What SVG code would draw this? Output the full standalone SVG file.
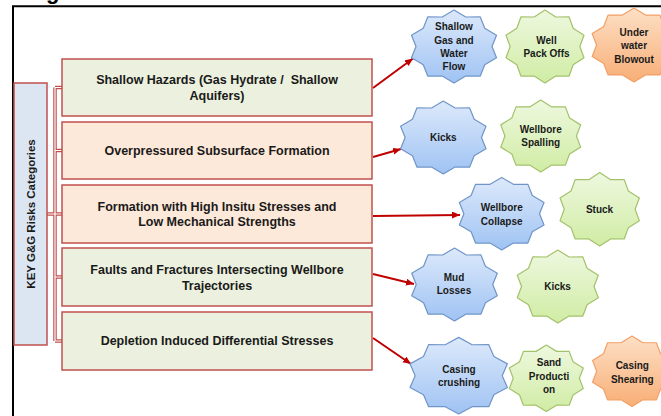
<svg xmlns="http://www.w3.org/2000/svg" width="661" height="416" viewBox="0 0 661 416">
<style>
.box{stroke:#c0504d;stroke-width:1.5}
.green{fill:#ebf1de}
.peach{fill:#fde9d9}
.t{font-family:"Liberation Sans",Arial,sans-serif;font-weight:bold;font-size:12.5px;fill:#1a1a1a;text-anchor:middle}
.s{font-family:"Liberation Sans",Arial,sans-serif;font-weight:bold;font-size:10px;fill:#1a1a1a;text-anchor:middle}
.sb{fill:url(#gb);stroke:#6f95c8}
.sg{fill:url(#gg);stroke:#a3c26a}
.so{fill:url(#go);stroke:#f2a066}
.arrow{stroke:#c00000;stroke-width:2;fill:none;marker-end:url(#ah)}
</style>
<defs>
<linearGradient id="gb" x1="0" y1="0" x2="0" y2="1"><stop offset="0" stop-color="#dde9fb"/><stop offset="1" stop-color="#9fc3f3"/></linearGradient>
<linearGradient id="gg" x1="0" y1="0" x2="0" y2="1"><stop offset="0" stop-color="#eef8df"/><stop offset="1" stop-color="#d0eca4"/></linearGradient>
<linearGradient id="go" x1="0" y1="0" x2="0" y2="1"><stop offset="0" stop-color="#fde0c6"/><stop offset="1" stop-color="#f8ae76"/></linearGradient>
<polygon id="star10" vector-effect="non-scaling-stroke" stroke-width="1.2" stroke-linejoin="round" points="0,-1 0.2627,-0.8084 0.5878,-0.809 0.6877,-0.4996 0.9511,-0.309 0.85,0 0.9511,0.309 0.6877,0.4996 0.5878,0.809 0.2627,0.8084 0,1 -0.2627,0.8084 -0.5878,0.809 -0.6877,0.4996 -0.9511,0.309 -0.85,0 -0.9511,-0.309 -0.6877,-0.4996 -0.5878,-0.809 -0.2627,-0.8084"/>
<marker id="ah" markerWidth="9" markerHeight="8" refX="8" refY="3.5" orient="auto" markerUnits="userSpaceOnUse"><path d="M0,0 L8,3.5 L0,7 z" fill="#c00000"/></marker>
</defs>
<rect width="661" height="416" fill="#ffffff"/>
<text x="46" y="-1" font-family="Liberation Sans,Arial,sans-serif" font-weight="bold" font-size="22" fill="#000">g</text>
<path d="M13,416 V6.3 H661" fill="none" stroke="#000" stroke-width="2"/>

<g id="connectors">
<g id="bracket" fill="none">
<path d="M47,214 H55 M55,87.5 V341 M55,87.5 H62 M55,150.5 H62 M55,214 H62 M55,277 H62 M55,341 H62" stroke="#c0504d" stroke-width="3.5"/>
<path d="M47,214 H55 M55,87.5 V341 M55,87.5 H62 M55,150.5 H62 M55,214 H62 M55,277 H62 M55,341 H62" stroke="#ffffff" stroke-width="1.2"/>
</g>
<line class="arrow" x1="373" y1="88" x2="413" y2="58.5"/>
<line class="arrow" x1="373" y1="157" x2="401" y2="149"/>
<line class="arrow" x1="373" y1="216" x2="460" y2="215"/>
<line class="arrow" x1="373" y1="274" x2="414" y2="284"/>
<line class="arrow" x1="373" y1="338" x2="411" y2="364"/>
</g>

<g id="key">
<rect x="14" y="83" width="33" height="262" fill="#dce6f2" class="box"/>
<text class="t" transform="translate(34.5,214) rotate(-90)" style="font-size:11.5px">KEY G&amp;G Risks Categories</text>
</g>

<g id="cat1">
<rect x="62" y="59" width="310" height="57" class="box green"/>
<text class="t" x="217" y="83.5" xml:space="preserve">Shallow Hazards (Gas Hydrate /  Shallow</text>
<text class="t" x="217" y="100">Aquifers)</text>
</g>
<g id="cat2">
<rect x="62" y="122" width="310" height="57" class="box peach"/>
<text class="t" x="217" y="155">Overpressured Subsurface Formation</text>
</g>
<g id="cat3">
<rect x="62" y="185" width="310" height="58" class="box peach"/>
<text class="t" x="217" y="210.5">Formation with High Insitu Stresses and</text>
<text class="t" x="217" y="226">Low Mechanical Strengths</text>
</g>
<g id="cat4">
<rect x="62" y="248" width="310" height="58" class="box green"/>
<text class="t" x="217" y="273.5">Faults and Fractures Intersecting Wellbore</text>
<text class="t" x="217" y="289.5">Trajectories</text>
</g>
<g id="cat5">
<rect x="62" y="312" width="310" height="58" class="box green"/>
<text class="t" x="217" y="345">Depletion Induced Differential Stresses</text>
</g>

<g id="r-shallow-gas">
<use href="#star10" class="sb" transform="translate(454,46.5) scale(44.7,36.5)"/>
<text class="s" x="454" y="30.2">Shallow</text>
<text class="s" x="454" y="43.5">Gas and</text>
<text class="s" x="454" y="56.8">Water</text>
<text class="s" x="454" y="70.2">Flow</text>
</g>
<g id="r-packoffs">
<use href="#star10" class="sg" transform="translate(545,46.5) scale(41,36.5)"/>
<text class="s" x="546.5" y="43.5">Well</text>
<text class="s" x="546.5" y="56.8">Pack Offs</text>
</g>
<g id="r-blowout">
<use href="#star10" class="so" transform="translate(634,45) scale(44,37)"/>
<text class="s" x="634" y="35.8">Under</text>
<text class="s" x="634" y="49.2">water</text>
<text class="s" x="634" y="62.5">Blowout</text>
</g>
<g id="r-kicks1">
<use href="#star10" class="sb" transform="translate(443.3,137.5) scale(44.9,36.5)"/>
<text class="s" x="443.3" y="141.2">Kicks</text>
</g>
<g id="r-spalling">
<use href="#star10" class="sg" transform="translate(540.7,136) scale(42,36)"/>
<text class="s" x="540.7" y="132.8">Wellbore</text>
<text class="s" x="540.7" y="146.2">Spalling</text>
</g>
<g id="r-collapse">
<use href="#star10" class="sb" transform="translate(501.7,213.7) scale(44.5,36.3)"/>
<text class="s" x="501.7" y="211.2">Wellbore</text>
<text class="s" x="501.7" y="224.5">Collapse</text>
</g>
<g id="r-stuck">
<use href="#star10" class="sg" transform="translate(599.7,209.3) scale(41.7,36.7)"/>
<text class="s" x="599.5" y="212.8">Stuck</text>
</g>
<g id="r-mud">
<use href="#star10" class="sb" transform="translate(454.5,284.5) scale(45,36.5)"/>
<text class="s" x="454" y="280.8">Mud</text>
<text class="s" x="454" y="294.2">Losses</text>
</g>
<g id="r-kicks2">
<use href="#star10" class="sg" transform="translate(557.8,286.5) scale(42.6,36.5)"/>
<text class="s" x="557.5" y="290.2">Kicks</text>
</g>
<g id="r-crushing">
<use href="#star10" class="sb" transform="translate(458.7,375.7) scale(51.2,38.3)"/>
<text class="s" x="459" y="372.8">Casing</text>
<text class="s" x="459" y="385.8">crushing</text>
</g>
<g id="r-sand">
<use href="#star10" class="sg" transform="translate(546.3,378.3) scale(38.9,33.3)"/>
<text class="s" x="549" y="366.2">Sand</text>
<text class="s" x="549" y="379.5">Producti</text>
<text class="s" x="549" y="392.8">on</text>
</g>
<g id="r-shearing">
<use href="#star10" class="so" transform="translate(632,371.3) scale(41.5,35.3)"/>
<text class="s" x="632.3" y="369.2">Casing</text>
<text class="s" x="632.3" y="382.5">Shearing</text>
</g>
</svg>
